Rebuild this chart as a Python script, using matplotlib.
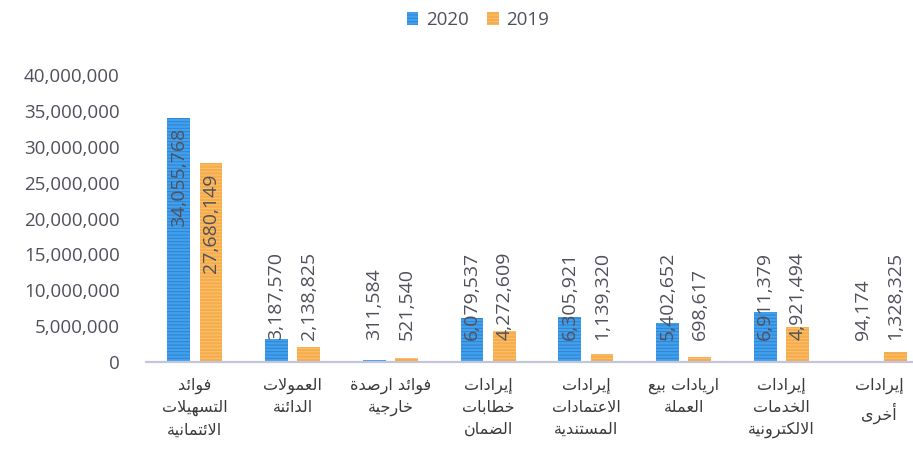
import matplotlib
matplotlib.use("Agg")
import matplotlib.pyplot as plt
import numpy as np

# ---------------- data ----------------
categories = [
    "فوائد\nالتسهيلات\nالائتمانية",
    "العمولات\nالدائنة",
    "فوائد ارصدة\nخارجية",
    "إيرادات\nخطابات\nالضمان",
    "إيرادات\nالاعتمادات\nالمستندية",
    "اريادات بيع\nالعملة",
    "إيرادات\nالخدمات\nالالكترونية",
    "إيرادات\nأخرى",
]
values_2020 = [34055768, 3187570, 311584, 6079537, 6305921, 5402652, 6911379, 94174]
values_2019 = [27680149, 2138825, 521540, 4272609, 1139320, 698617, 4921494, 1328325]
series_names = ["2020", "2019"]
yticks = [0, 5000000, 10000000, 15000000, 20000000, 25000000, 30000000, 35000000, 40000000]

# ------------- minimal Arabic shaping (presentation forms) -------------
FOUR = {  # iso, fin, ini, med base code
    '\u0626': 0xFE89, '\u0628': 0xFE8F, '\u062A': 0xFE95, '\u062B': 0xFE99,
    '\u062C': 0xFE9D, '\u062D': 0xFEA1, '\u062E': 0xFEA5, '\u0633': 0xFEB1,
    '\u0634': 0xFEB5, '\u0635': 0xFEB9, '\u0636': 0xFEBD, '\u0637': 0xFEC1,
    '\u0638': 0xFEC5, '\u0639': 0xFEC9, '\u063A': 0xFECD, '\u0641': 0xFED1,
    '\u0642': 0xFED5, '\u0643': 0xFED9, '\u0644': 0xFEDD, '\u0645': 0xFEE1,
    '\u0646': 0xFEE5, '\u0647': 0xFEE9, '\u064A': 0xFEF1,
}
TWO = {  # iso, fin
    '\u0622': 0xFE81, '\u0623': 0xFE83, '\u0624': 0xFE85, '\u0625': 0xFE87,
    '\u0627': 0xFE8D, '\u0629': 0xFE93, '\u062F': 0xFEA9, '\u0630': 0xFEAB,
    '\u0631': 0xFEAD, '\u0632': 0xFEAF, '\u0648': 0xFEED, '\u0649': 0xFEEF,
}
LAMALEF = {'\u0622': 0xFEF5, '\u0623': 0xFEF7, '\u0625': 0xFEF9, '\u0627': 0xFEFB}


def is_ar(c):
    return c in FOUR or c in TWO or c == '\u0621'


def shape_line(s):
    out = []
    i = 0
    n = len(s)
    while i < n:
        c = s[i]
        prev = s[i - 1] if i > 0 else ''
        joins_prev = prev in FOUR
        if c == '\u0644' and i + 1 < n and s[i + 1] in LAMALEF:
            base = LAMALEF[s[i + 1]]
            out.append(chr(base + (1 if joins_prev else 0)))
            i += 2
            continue
        nxt = s[i + 1] if i + 1 < n else ''
        if c in FOUR:
            joins_next = is_ar(nxt)
            base = FOUR[c]
            if joins_prev and joins_next:
                out.append(chr(base + 3))
            elif joins_next:
                out.append(chr(base + 2))
            elif joins_prev:
                out.append(chr(base + 1))
            else:
                out.append(chr(base))
        elif c in TWO:
            out.append(chr(TWO[c] + (1 if joins_prev else 0)))
        elif c == '\u0621':
            out.append(chr(0xFE80))
        else:
            out.append(c)
        i += 1
    return ''.join(reversed(out))


def shape(s):
    return '\n'.join(shape_line(l) for l in s.split('\n'))


# ---------------- figure ----------------
plt.rcParams['hatch.linewidth'] = 0.7
W, H = 913, 458
fig = plt.figure(figsize=(W / 100, H / 100), dpi=100)
ax = fig.add_axes([146 / W, 1 - 362 / H, 782 / W, 287 / H])

x = np.arange(len(categories))
bw = 0.235
off = 0.165
blue = '#42a0ec'
orange = '#f7ab4e'
b1 = ax.bar(x - off, values_2020, bw, color=blue, edgecolor='#2c82d0',
            hatch='-----', linewidth=0, label=series_names[0])
b2 = ax.bar(x + off, values_2019, bw, color=orange, edgecolor='#f5c66a',
            hatch='-----', linewidth=0, label=series_names[1])

num_font = ['Open Sans', 'DejaVu Sans']
txt_color = '#50505c'
ax.set_xlim(-0.5, len(categories) - 0.5)
ax.set_ylim(0, 40000000)
ax.set_yticks(yticks)
ax.set_yticklabels([f"{v:,}" for v in yticks], fontsize=13.5, color=txt_color,
                   family=num_font)
ax.tick_params(axis='y', length=0, pad=19)
ax.tick_params(axis='x', length=0, pad=11)
ax.set_xticks(x)
ax.set_xticklabels([shape(c) for c in categories], fontsize=11.5,
                   color='#3a3a3a', family='DejaVu Sans', linespacing=1.55)
for sp in ['top', 'right', 'left']:
    ax.spines[sp].set_visible(False)
ax.spines['bottom'].set_color('#c3c6d8')
ax.spines['bottom'].set_linewidth(1.6)

# data labels
for bars, vals in ((b1, values_2020), (b2, values_2019)):
    for rect, v in zip(bars, vals):
        cx = rect.get_x() + rect.get_width() / 2
        if v > 10000000:
            ax.text(cx, v - 1400000, f"{v:,}", rotation=90, ha='center', va='top',
                    fontsize=14, color=txt_color, family=num_font)
        else:
            ax.text(cx, 3000000, f"{v:,}", rotation=90, ha='center', va='bottom',
                    fontsize=14, color=txt_color, family=num_font)

leg = fig.legend(handles=[b1, b2], labels=series_names, loc='center',
                 bbox_to_anchor=(478 / W, 1 - 20 / H), ncol=2, frameon=False,
                 handlelength=0.6, handleheight=0.7, handletextpad=0.4,
                 columnspacing=1.0, prop={'family': num_font, 'size': 13.5})
for t in leg.get_texts():
    t.set_color(txt_color)

fig.savefig('out.png', dpi=100, facecolor='white')
